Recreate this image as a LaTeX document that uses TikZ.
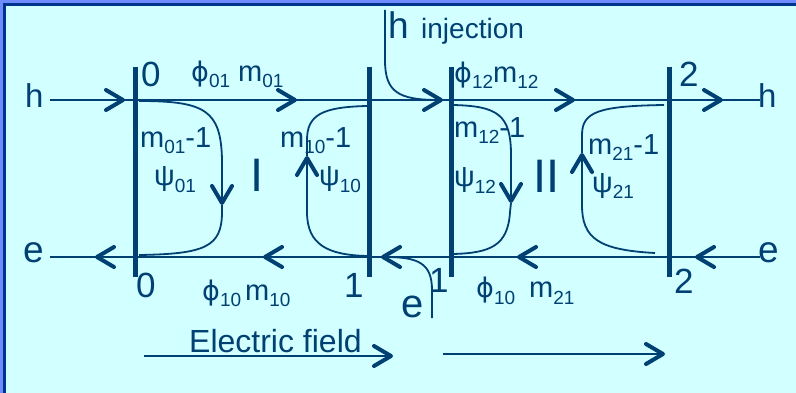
\documentclass[tikz,border=0pt]{standalone}
\usepackage{fontspec}
\setmainfont{Liberation Sans}
\newfontfamily\grkfont{DejaVu Sans}
\usetikzlibrary{arrows.meta}
\definecolor{dkblue}{RGB}{0,64,115}
\definecolor{bgcyan}{RGB}{210,255,255}
\definecolor{edgeblue}{RGB}{110,140,255}
\definecolor{rimblue}{RGB}{0,51,140}
\newcommand{\fsz}[1]{\fontsize{#1}{#1}\selectfont}
\newcommand{\lowsub}[1]{\raisebox{-6pt}{\fsz{19}#1}}
\newcommand{\phisym}{{\grkfont\fsz{27}ϕ}}

\begin{document}
\begin{tikzpicture}[x=1pt, y=-1pt,
  chev/.tip={Straight Barb[length=17pt,width=20pt,line width=4pt,round]},
  wire/.style={draw=dkblue, line width=2pt},
  loopline/.style={draw=dkblue, line width=1.8pt},
  bar/.style={draw=dkblue, line width=5pt},
  lbl/.style={text=dkblue, inner sep=0pt, anchor=base west},
  numlbl/.style={lbl, font=\fsz{35}},
  symlbl/.style={lbl, font=\fsz{29}}]
  % frame
  \useasboundingbox (0,0) rectangle (796,393);
  \fill[bgcyan] (0,0) rectangle (796,393);
  \fill[edgeblue] (0,0) rectangle (796,4);
  \fill[edgeblue] (0,0) rectangle (3,393);
  \draw[rimblue, line width=2.5pt] (4.5,393) -- (4.5,4.5) -- (796,4.5);

  % bars and crossing points
  \coordinate (b0t) at (135,67);  \coordinate (b0b) at (135,277);
  \coordinate (b1t) at (369,67);  \coordinate (b1b) at (369,277);
  \coordinate (b2t) at (451,67);  \coordinate (b2b) at (451,277);
  \coordinate (b3t) at (669,67);  \coordinate (b3b) at (669,277);
  \coordinate (b0h) at (135,100); \coordinate (b0e) at (135,257);
  \coordinate (b1h) at (369,100); \coordinate (b1e) at (369,257);
  \coordinate (b2h) at (451,100); \coordinate (b2e) at (451,257);
  \coordinate (b3h) at (669,100); \coordinate (b3e) at (669,257);

  % h line
  \coordinate (hIn) at (50,100);  \coordinate (hOut) at (760,100);
  \coordinate (ha0) at (125,100); \coordinate (ha1) at (297,100);
  \coordinate (ha2) at (443,100); \coordinate (ha3) at (575,100);
  \coordinate (ha4) at (723,100);
  \draw[wire] (hIn) -- (hOut);
  \draw[wire,-chev] (hIn) -- (ha0);
  \draw[wire,-chev] (b0h) -- (ha1);
  \draw[wire,-chev] (b2h) -- (ha3);
  \draw[wire,-chev] (b3h) -- (ha4);

  % e line
  \coordinate (eIn) at (760,257); \coordinate (eOut) at (50,257);
  \coordinate (ea4) at (695,257); \coordinate (ea3) at (517,257);
  \coordinate (ea2) at (381,257); \coordinate (ea1) at (263,257);
  \coordinate (ea0) at (95,257);
  \draw[wire] (eIn) -- (eOut);
  \draw[wire,-chev] (eIn) -- (ea4);
  \draw[wire,-chev] (b3e) -- (ea3);
  \draw[wire,-chev] (b1e) -- (ea1);
  \draw[wire,-chev] (b0e) -- (ea0);

  \draw[bar] (b0t) -- (b0b);
  \draw[bar] (b1t) -- (b1b);
  \draw[bar] (b2t) -- (b2b);
  \draw[bar] (b3t) -- (b3b);

  % loops in cell I
  \coordinate (s01) at (139,101); \coordinate (d01) at (222,205); \coordinate (t01) at (139,255);
  \draw[loopline,-chev] (s01) .. controls (205,101) and (221,110) .. (222,160) -- (d01);
  \draw[loopline] (d01) -- (222,212) .. controls (222,247) and (205,254) .. (t01);
  \coordinate (s10) at (367,256); \coordinate (d10) at (307,156); \coordinate (t10) at (367,106);
  \draw[loopline,-chev] (s10) .. controls (328,255) and (307,245) .. (307,212) -- (d10);
  \draw[loopline] (d10) -- (307,140) .. controls (307,115) and (322,107) .. (t10);

  % loops in cell II
  \coordinate (s12) at (453,105); \coordinate (d12) at (511,203); \coordinate (t12) at (453,254);
  \draw[loopline,-chev] (s12) .. controls (498,106) and (511,115) .. (511,155) -- (d12);
  \draw[loopline] (d12) -- (510,212) .. controls (508,246) and (490,253) .. (t12);
  \coordinate (s21) at (655,253); \coordinate (d21) at (582,153); \coordinate (t21) at (664,105);
  \draw[loopline,-chev] (s21) .. controls (598,250) and (582,238) .. (582,205) -- (d21);
  \draw[loopline] (d21) -- (582,135) .. controls (582,112) and (598,106) .. (t21);

  % injection
  \coordinate (injTop) at (385,10); \coordinate (injBot) at (432,318);
  \draw[loopline,-chev] (injTop) -- (385,60) .. controls (385,92) and (398,100) .. (ha2);
  \draw[loopline,-chev] (injBot) -- (432,290) .. controls (432,263) and (418,257) .. (ea2);

  % field
  \coordinate (f1a) at (144,356); \coordinate (f1b) at (393,356);
  \coordinate (f2a) at (443,354); \coordinate (f2b) at (665,354);
  \draw[wire,-chev] (f1a) -- (f1b);
  \draw[wire,-chev] (f2a) -- (f2b);

  % labels
  \node[numlbl, font=\fsz{33}] (lhL) at (25,108) {h};
  \node[numlbl, font=\fsz{33}] (lhR) at (758,108) {h};
  \node[numlbl, font=\fsz{37}] (leL) at (23,262) {e};
  \node[numlbl, font=\fsz{37}] (leR) at (758,262) {e};
  \node[numlbl] (l0t) at (141,87) {0};
  \node[numlbl] (l0b) at (136,298) {0};
  \node[numlbl] (l1b) at (344,298) {1};
  \node[numlbl] (l1pb) at (429,292) {1};
  \node[numlbl] (l2t) at (679,87) {2};
  \node[numlbl] (l2b) at (674,294) {2};
  \node[symlbl] (lphi01) at (191,82) {\phisym\lowsub{01} m\lowsub{01}};
  \node[symlbl] (lphi12) at (454,83) {\phisym\lowsub{12}m\lowsub{12}};
  \node[symlbl] (lphi10) at (202,300) {\phisym\lowsub{10}\hspace{4pt}m\lowsub{10}};
  \node[symlbl] (lphi21) at (476,298) {\phisym\lowsub{10}\hspace{14pt}m\lowsub{21}};
  \node[symlbl] (lm01) at (140,148) {m\lowsub{01}-1};
  \node[symlbl] (lm10) at (280,148) {m\lowsub{10}-1};
  \node[symlbl] (lm12) at (454,138) {m\lowsub{12}-1};
  \node[symlbl] (lm21) at (588,155) {m\lowsub{21}-1};
  \node[symlbl] (lpsi01) at (154,186) {ψ\lowsub{01}};
  \node[symlbl] (lpsi10) at (319,186) {ψ\lowsub{10}};
  \node[symlbl] (lpsi12) at (454,187) {ψ\lowsub{12}};
  \node[symlbl] (lpsi21) at (592,193) {ψ\lowsub{21}};
  \node[lbl, font=\fsz{47}] (lI) at (250,192) {I};
  \node[lbl, font=\fsz{47}] (lII) at (533,193) {II};
  \node[lbl, font=\fsz{37}] (linjh) at (388,39) {h};
  \node[lbl, font=\fsz{28}] (linj) at (421,39) {injection};
  \node[lbl, font=\fsz{40}] (le1) at (401,317) {e};
  \node[lbl, font=\fsz{32}] (lfield) at (189,352) {Electric field};
\end{tikzpicture}
\end{document}
